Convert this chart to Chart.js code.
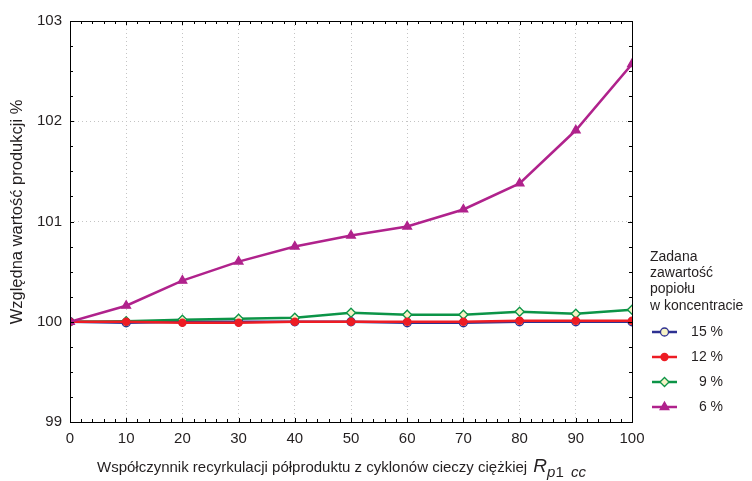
<!DOCTYPE html>
<html>
<head>
<meta charset="utf-8">
<script src="https://cdn.jsdelivr.net/npm/chart.js@4.4.0/dist/chart.umd.min.js"></script>
<style>
  html, body { margin: 0; padding: 0; background: #fff; }
  #wrap { width: 752px; height: 481px; }
</style>
</head>
<body>
<div id="wrap"><canvas id="myChart" width="752" height="481"></canvas></div>
<script>
  // Data
  const recycle = [0, 10, 20, 30, 40, 50, 60, 70, 80, 90, 100];
  const ash15 = [100, 99.99, 100, 100, 100, 100, 99.99, 99.99, 100, 100, 100];
  const ash12 = [100, 100, 99.99, 99.99, 100, 100, 100, 100, 100.01, 100.01, 100.01];
  const ash9 = [100, 100.005, 100.02, 100.03, 100.04, 100.09, 100.07, 100.07, 100.10, 100.08, 100.12];
  const ash6 = [100, 100.16, 100.41, 100.60, 100.75, 100.86, 100.95, 101.12, 101.38, 101.91, 102.57];
  const seriesLabels = ['15 %', '12 %', '9 %', '6 %'];
  const legendTitle = ['Zadana', 'zawartość', 'popiołu', 'w koncentracie'];
  const yTitle = 'Względna wartość produkcji %';
  const xTitle = 'Współczynnik recyrkulacji półproduktu z cyklonów cieczy ciężkiej ';

  const FONT = '"Liberation Sans", Arial, sans-serif';
  const TXT = '#231f20';

  const toXY = arr => arr.map((v, i) => ({ x: recycle[i], y: v }));

  // Box, inward minor ticks, axis titles and legend
  const decor = {
    id: 'decor',
    afterDatasetsDraw(chart) {
      const { ctx, chartArea: a, scales: { x, y } } = chart;
      ctx.save();
      ctx.strokeStyle = '#000';
      ctx.lineWidth = 1;
      ctx.strokeRect(a.left + 0.5, a.top + 0.5, a.right - a.left, a.bottom - a.top);
      ctx.beginPath();
      for (let v = 0; v <= 100; v += 2) {
        const px = Math.round(x.getPixelForValue(v)) + 0.5;
        const len = v % 10 === 0 ? 4 : 3;
        ctx.moveTo(px, a.bottom); ctx.lineTo(px, a.bottom - len);
        ctx.moveTo(px, a.top); ctx.lineTo(px, a.top + len);
      }
      for (let v = 99; v <= 103; v += 0.25) {
        const py = Math.round(y.getPixelForValue(v)) + 0.5;
        const len = Number.isInteger(v) ? 4 : 3;
        ctx.moveTo(a.left, py); ctx.lineTo(a.left + len, py);
        ctx.moveTo(a.right, py); ctx.lineTo(a.right - len, py);
      }
      ctx.stroke();

      // y title
      ctx.fillStyle = TXT;
      ctx.font = '16.5px ' + FONT;
      ctx.textAlign = 'center';
      ctx.textBaseline = 'middle';
      ctx.save();
      ctx.translate(17, 212);
      ctx.rotate(-Math.PI / 2);
      ctx.fillText(yTitle, 0, 0);
      ctx.restore();

      // x title with subscript
      ctx.textAlign = 'left';
      ctx.textBaseline = 'alphabetic';
      let cx = 97;
      const by = 472;
      ctx.font = '15px ' + FONT;
      ctx.fillText(xTitle, cx, by);
      cx += ctx.measureText(xTitle).width + 2;
      ctx.font = 'italic 19px ' + FONT;
      ctx.fillText('R', cx, by);
      cx += ctx.measureText('R').width;
      const subs = [['italic 15px ', 'p'], ['15px ', '1 '], ['italic 15px ', 'cc']];
      subs.forEach(([f, t]) => {
        ctx.font = f + FONT;
        ctx.fillText(t, cx, by + 5);
        cx += ctx.measureText(t).width + (t === '1 ' ? 3 : 0);
      });

      // legend
      ctx.font = '14px ' + FONT;
      ctx.textBaseline = 'middle';
      legendTitle.forEach((t, i) => ctx.fillText(t, 650, 257 + i * 16.3));
      chart.data.datasets.forEach((ds, i) => {
        const ly = 332 + i * 25;
        ctx.strokeStyle = ds.borderColor;
        ctx.lineWidth = 2.5;
        ctx.beginPath();
        ctx.moveTo(652, ly); ctx.lineTo(677, ly);
        ctx.stroke();
        ctx.fillStyle = ds.pointBackgroundColor;
        ctx.strokeStyle = ds.borderColor;
        ctx.lineWidth = 1.3;
        Chart.helpers.drawPoint(ctx, { pointStyle: ds.pointStyle, radius: ds.pointRadius, borderWidth: 1.3, rotation: 0 }, 664.5, ly);
        ctx.fillStyle = TXT;
        ctx.textAlign = 'right';
        ctx.fillText(ds.label, 723, ly);
        ctx.textAlign = 'left';
      });
      ctx.restore();
    }
  };

  const ctx = document.getElementById('myChart');

  // eslint-disable-next-line no-unused-vars
  const myChart = new Chart(ctx, {
    type: 'line',
    data: {
      datasets: [{
        label: seriesLabels[0],
        data: toXY(ash15),
        borderColor: '#2e3192',
        pointBackgroundColor: '#f7f3c6',
        pointStyle: 'circle',
        pointRadius: 4,
        order: 3
      }, {
        label: seriesLabels[1],
        data: toXY(ash12),
        borderColor: '#ed1c24',
        pointBackgroundColor: '#ed1c24',
        pointStyle: 'circle',
        pointRadius: 3.5,
        order: 1
      }, {
        label: seriesLabels[2],
        data: toXY(ash9),
        borderColor: '#0c9447',
        pointBackgroundColor: '#f7f3c6',
        pointStyle: 'rectRot',
        pointRadius: 4.5,
        order: 2
      }, {
        label: seriesLabels[3],
        data: toXY(ash6),
        borderColor: '#b0228c',
        pointBackgroundColor: '#b0228c',
        pointStyle: 'triangle',
        pointRadius: 5,
        order: 0
      }]
    },
    options: {
      responsive: false,
      animation: false,
      devicePixelRatio: 1,
      datasets: {
        line: {
          borderWidth: 2.5,
          pointBorderWidth: 1.3,
          tension: 0
        }
      },
      layout: { padding: { left: 0, right: 120, top: 21, bottom: 0 } },
      scales: {
        x: {
          type: 'linear',
          min: 0,
          max: 100,
          afterFit: s => { s.height = 59; },
          ticks: { stepSize: 10, color: TXT, font: { family: FONT, size: 15 }, padding: 8 },
          grid: { color: '#c4c4c4', drawTicks: false, lineWidth: 1 },
          border: { display: false, dash: [1, 3] }
        },
        y: {
          min: 99,
          max: 103,
          afterFit: s => { s.width = 70; },
          ticks: { stepSize: 1, color: TXT, font: { family: FONT, size: 15 }, padding: 8 },
          grid: { color: '#c4c4c4', drawTicks: false, lineWidth: 1 },
          border: { display: false, dash: [1, 3] }
        }
      },
      plugins: {
        legend: { display: false },
        tooltip: { enabled: false }
      }
    },
    plugins: [decor]
  });
</script>
</body>
</html>
